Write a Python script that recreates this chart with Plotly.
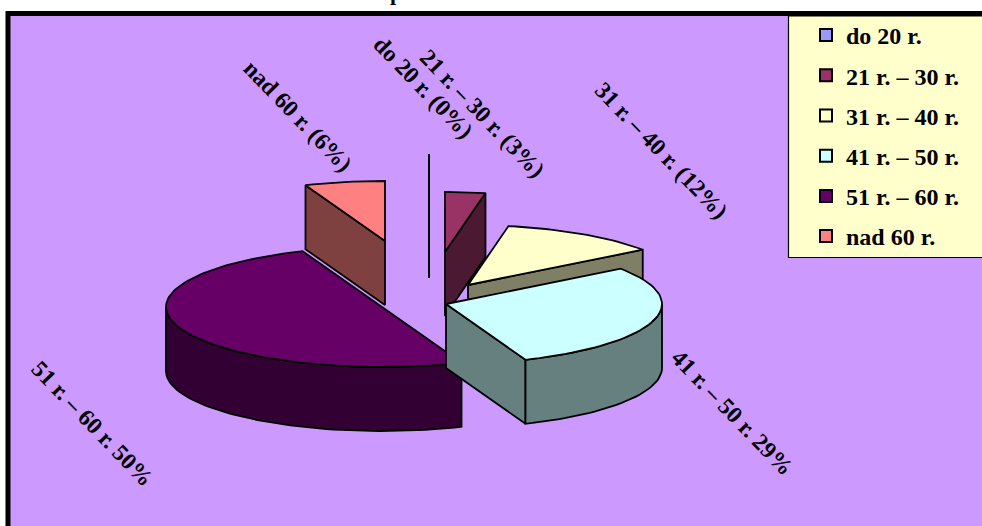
import math
import plotly.graph_objects as go

# Data
categories = ["do 20 r.", "21 r. – 30 r.", "31 r. – 40 r.", "41 r. – 50 r.", "51 r. – 60 r.", "nad 60 r."]
values = [0, 3, 12, 29, 50, 6]
slice_labels = ["do 20 r. (0%)", "21 r. – 30 r. (3%)", "31 r. – 40 r. (12%)", "41 r. – 50 r. 29%", "51 r. – 60 r. 50%", "nad 60 r. (6%)"]
colors = ["#9999FF", "#993366", "#FFFFCC", "#CCFFFF", "#660066", "#FF8080"]

# Projection of the tilted pie, in pixel-scaled axes
CX, CY = 414, 300
RX, RY, DEPTH = 216, 60, 64
explode_x = [15, 31, 54, 32, -32, -29]
explode_y = [-86, -48, -15, 4, 7, -59]
draw_order = [0, 5, 1, 2, 4, 3]
label_x = [423, 482, 661, 732, 92, 298]
label_y = [87, 113, 150, 412, 423, 116]
FONT = "Liberation Serif"
W, H = 982, 526


def darker(h):
    return "#%02X%02X%02X" % tuple(int(h[i:i + 2], 16) // 2 for i in (1, 3, 5))


def rim(ax, ay, a, dz=0):
    r = math.radians(a)
    return ax + RX * math.sin(r), ay - RY * math.cos(r) + dz


def arc(ax, ay, a0, a1, dz=0):
    n = max(2, int(abs(a1 - a0) / 2) + 1)
    return [rim(ax, ay, a0 + (a1 - a0) * i / (n - 1), dz) for i in range(n)]


def poly(pts, fill):
    xs = [p[0] for p in pts] + [pts[0][0]]
    ys = [p[1] for p in pts] + [pts[0][1]]
    return go.Scatter(x=xs, y=ys, mode="lines", fill="toself", fillcolor=fill,
                      line=dict(color="black", width=1.8), showlegend=False, hoverinfo="skip")


fig = go.Figure()
total = sum(values)
starts, running = [], 0
for v in values:
    starts.append(running / total * 360)
    running += v

for i in draw_order:
    a0 = starts[i]
    a1 = a0 + values[i] / total * 360
    ax, ay = CX + explode_x[i], CY + explode_y[i]
    side = darker(colors[i])
    for a, vis in ((a0, math.sin(math.radians(a0)) < -1e-9), (a1, math.sin(math.radians(a1)) > 1e-9)):
        if vis or values[i] == 0:
            p = rim(ax, ay, a)
            fig.add_trace(poly([(ax, ay), p, (p[0], p[1] + DEPTH), (ax, ay + DEPTH)], side))
    w0, w1 = max(a0, 90), min(a1, 270)
    if w1 > w0:
        fig.add_trace(poly(arc(ax, ay, w0, w1) + arc(ax, ay, w1, w0, DEPTH), side))
    if values[i] > 0:
        fig.add_trace(poly([(ax, ay)] + arc(ax, ay, a0, a1), colors[i]))

for name, c in zip(categories, colors):
    fig.add_trace(go.Scatter(x=[None], y=[None], mode="markers", name=name, legendgroup=name,
                             marker=dict(symbol="square", size=13, color=c, line=dict(color="black", width=1.8))))

for t, x, y in zip(slice_labels, label_x, label_y):
    fig.add_annotation(x=x, y=y, text=t, textangle=46, showarrow=False,
                       font=dict(family=FONT, size=23.5, color="black", weight="bold"))

fig.add_annotation(x=396, xref="x", y=1 + 7 / H, yref="paper", yanchor="middle", text="p", showarrow=False,
                   font=dict(family=FONT, size=22, color="black", weight="bold"))

fig.update_layout(
    width=W, height=H, autosize=False, margin=dict(l=0, r=0, t=0, b=0),
    paper_bgcolor="white", plot_bgcolor="white",
    xaxis=dict(range=[0, W], visible=False, fixedrange=True),
    yaxis=dict(range=[H, 0], visible=False, fixedrange=True),
    shapes=[
        dict(type="rect", layer="below", x0=8, y0=13.5, x1=W + 10, y1=H + 10, fillcolor="#CC99FF", line=dict(color="black", width=5)),
        dict(type="rect", layer="below", x0=788.5, y0=16, x1=W + 10, y1=257.5, fillcolor="#FFFFCC", line=dict(color="black", width=1.2)),
    ],
    legend=dict(x=813 / W, xanchor="left", y=1 - 13 / H, yanchor="top", bgcolor="rgba(0,0,0,0)", borderwidth=0,
                font=dict(family=FONT, size=24, color="black", weight="bold"), tracegroupgap=6, itemsizing="constant", indentation=-7),
)
fig.write_html("out.html", config=dict(displayModeBar=False),
               post_script="document.body.style.margin='0';document.body.style.overflow='hidden';")
